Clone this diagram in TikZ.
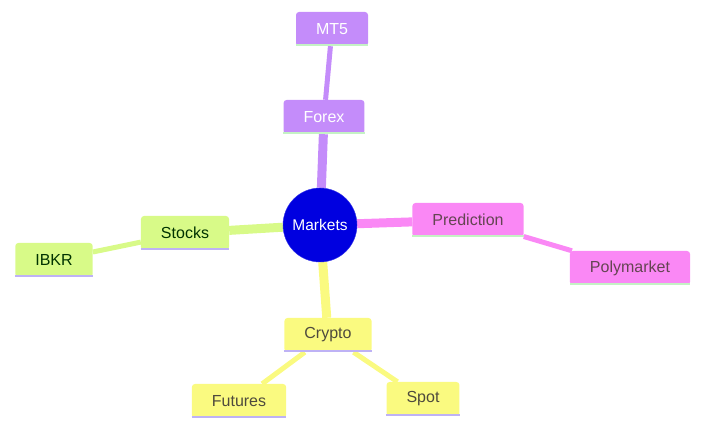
\documentclass[tikz,border=0pt]{standalone}
\usepackage{fontspec}
\setmainfont{Liberation Sans}
\usetikzlibrary{backgrounds}
\definecolor{forexc}{RGB}{196,140,250}
\definecolor{stockc}{RGB}{216,250,136}
\definecolor{predc}{RGB}{250,136,245}
\definecolor{cryptc}{RGB}{250,250,128}
\definecolor{rootc}{RGB}{0,0,224}
\definecolor{lgreen}{RGB}{196,242,196}
\definecolor{lviolet}{RGB}{190,178,245}
\tikzset{
  leaf/.style={rectangle, rounded corners=3pt, minimum height=34pt, inner xsep=20pt,
    inner ysep=0pt, font=\fontsize{16}{19}\selectfont, fill=#1},
  link/.style={line width=9pt, #1},
  sublink/.style={line width=5pt, #1}
}
\begin{document}
\begin{tikzpicture}[x=1pt,y=-1pt]
    \useasboundingbox (0,0) rectangle (718,446);
    \node[circle, fill=rootc, draw=rootc!80!white, minimum size=74pt, inner sep=0pt,
      text=white, font=\fontsize{15.5}{18}\selectfont] (markets) at (320,225) {Markets};
    \node[leaf=forexc, text=white] (forex) at (324,117) {Forex};
    \node[leaf=forexc, text=white] (mt5) at (332,29) {MT5};
    \node[leaf=stockc, text=black!80!green] (stocks) at (185,233) {Stocks};
    \node[leaf=stockc, text=black!80!green] (ibkr) at (54,260) {IBKR};
    \node[leaf=predc, text=black!70!magenta] (pred) at (468,220) {Prediction};
    \node[leaf=predc, text=black!70!magenta] (poly) at (630,268) {Polymarket};
    \node[leaf=cryptc, text=black!80!yellow] (crypto) at (328,335) {Crypto};
    \node[leaf=cryptc, text=black!80!yellow] (futures) at (239,401) {Futures};
    \node[leaf=cryptc, text=black!80!yellow] (spot) at (423,399) {Spot};
    \foreach \n/\c in {forex/lgreen, mt5/lgreen, pred/lgreen, poly/lgreen,
      stocks/lviolet, ibkr/lviolet, crypto/lviolet, futures/lviolet, spot/lviolet}
      \draw[line width=2.5pt, \c] ([yshift=1.25pt]\n.south west) -- ([yshift=1.25pt]\n.south east);
    \begin{scope}[on background layer]
      \draw[link=forexc] (markets) -- (forex);
      \draw[sublink=forexc] (forex) -- (mt5);
      \draw[link=stockc] (markets) -- (stocks);
      \draw[sublink=stockc] (stocks) -- (ibkr);
      \draw[link=predc] (markets) -- (pred);
      \draw[sublink=predc] (pred) -- (poly);
      \draw[link=cryptc] (markets) -- (crypto);
      \draw[sublink=cryptc] (crypto) -- (futures);
      \draw[sublink=cryptc] (crypto) -- (spot);
    \end{scope}
\end{tikzpicture}
\end{document}
